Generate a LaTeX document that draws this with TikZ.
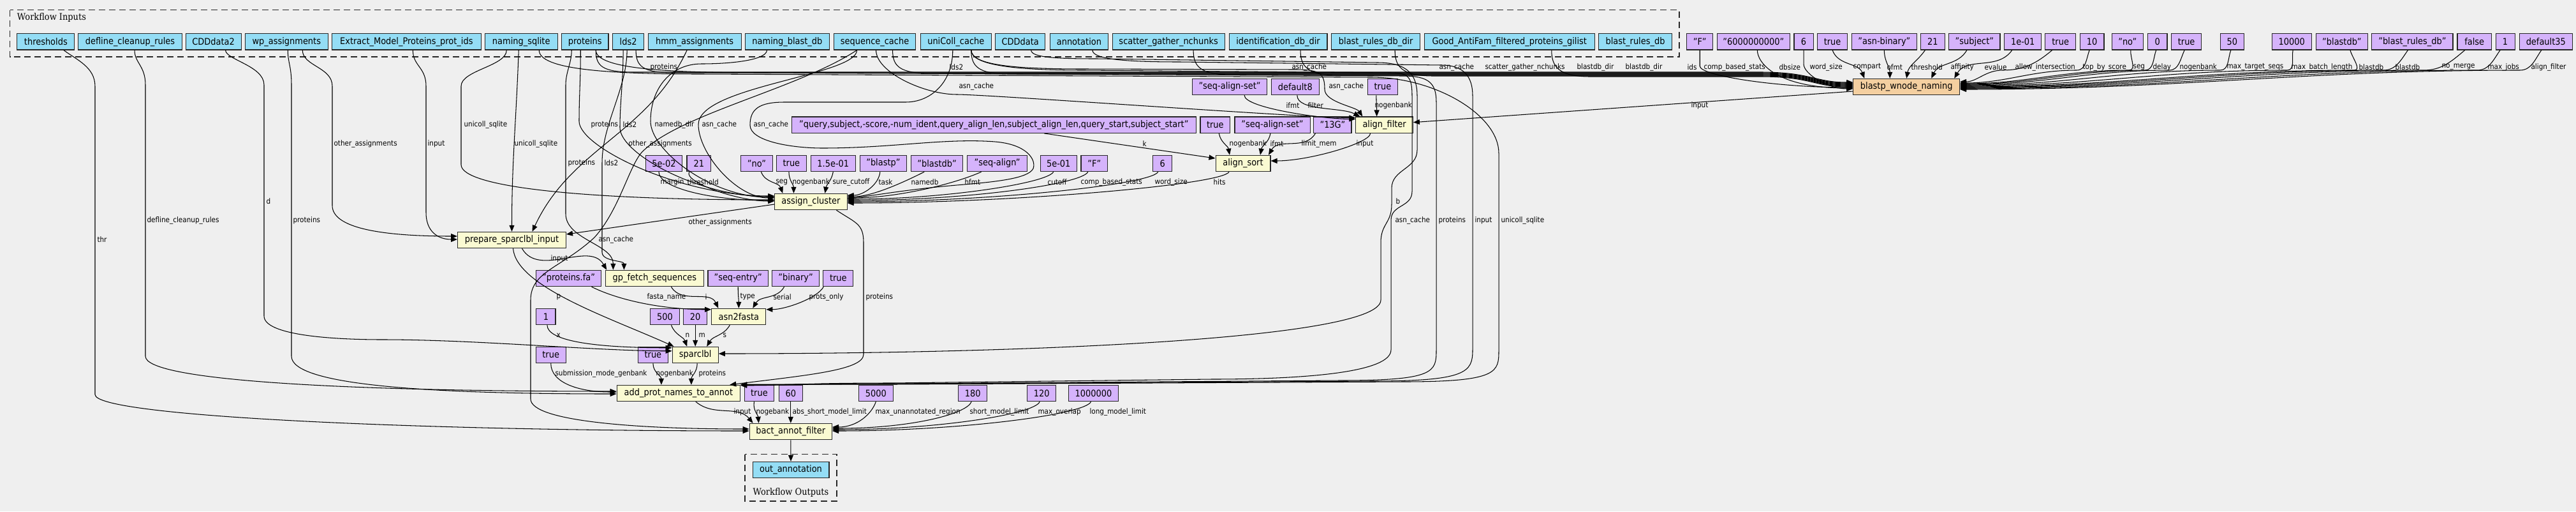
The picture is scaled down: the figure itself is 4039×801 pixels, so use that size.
\documentclass[tikz,border=0pt]{standalone}
\usepackage{fontspec}
\setmainfont{DejaVu Sans}[FakeStretch=0.9]
\newfontfamily\wfserif{DejaVu Serif}[FakeStretch=0.9]
\usetikzlibrary{arrows.meta}
\definecolor{bgc}{HTML}{EFEFEF}
\definecolor{inpc}{HTML}{94DDF5}
\definecolor{cstc}{HTML}{D5B3FB}
\definecolor{stpc}{HTML}{FAFAD2}
\definecolor{sctc}{HTML}{F4CFA0}
\newcommand\nodefont{\fontsize{14.4}{16}\selectfont}
\newcommand\lblfont{\fontsize{11.6}{14}\selectfont}
\newcommand\wffont{\wfserif\fontsize{14.4}{16}\selectfont}
\tikzset{
 nbase/.style={draw=black!85, line width=1.1pt, inner sep=0pt, minimum height=25.4pt, font=\nodefont},
 inp/.style={nbase, fill=inpc},
 cst/.style={nbase, fill=cstc},
 stp/.style={nbase, fill=stpc},
 sct/.style={nbase, fill=sctc},
 conn/.style={draw=black, line width=1.05pt, -{Triangle[length=10pt,width=8pt]}},
 lbl/.style={font=\lblfont, anchor=west, inner sep=0pt},
 wbox/.style={draw=black!85, line width=1.3pt, dash pattern=on 10pt off 6pt},
}
\newcommand\mkN[6]{\node[#1, minimum width={#4-#3-1.1}] (#2) at ({(#3+#4)/2},{-#5}) {#6};}
\newcommand\edgeL[7]{\draw[conn] (#1) .. controls +#3 and +#4 .. (#2) node[lbl] at (#5,-#6) {#7};}
\newcommand\edgeT[7]{\draw[conn] (#1) to[out=#3,in=#4] (#2) node[lbl] at (#5,-#6) {#7};}
\newcommand\edgeB[6]{\draw[conn] (#1) .. controls +(0,-25) and +(-50,0) .. ({#2+60},-#3) -- (2760,-#3) .. controls +(80,0) and +(-60,0) .. (#4) node[lbl] at (#5,-105) {#6};}
\newcommand\edgeR[6]{\draw[conn] (#1) to[out=#3,in=0] (#2,-110) to[out=180,in=0] (#4) node[lbl] at (#5,-105) {#6};}
\begin{document}
\begin{tikzpicture}[x=1pt,y=1pt]
\fill[bgc] (0,0) rectangle (4039,-801);
\useasboundingbox (0,0) rectangle (4039,-801);
\draw[wbox] (15.6,-15.7) rectangle (2633,-89);
\node[anchor=west, font=\wffont, inner sep=0] (wflin) at (26.8,-27.3) {Workflow Inputs};
\draw[wbox] (1167.9,-711.7) rectangle (1312,-785);
\node[font=\wffont, inner sep=0] (wflout) at (1240,-771.7) {Workflow Outputs};
% inputs
\mkN{inp}{thr}{26.3}{117.4}{65.3}{thresholds}
\mkN{inp}{defl}{122.3}{285.7}{65.3}{defline\_cleanup\_rules}
\mkN{inp}{cdd2}{290.6}{378.6}{65.3}{CDDdata2}
\mkN{inp}{wp}{383.9}{514.7}{65.3}{wp\_assignments}
\mkN{inp}{emp}{520.1}{754.6}{65.3}{Extract\_Model\_Proteins\_prot\_ids}
\mkN{inp}{nsq}{759.9}{874.6}{65.3}{naming\_sqlite}
\mkN{inp}{prot}{880}{954.5}{65.3}{proteins}
\mkN{inp}{lds}{960.3}{1009.9}{65.3}{lds2}
\mkN{inp}{hmm}{1015.7}{1162.6}{65.3}{hmm\_assignments}
\mkN{inp}{nbd}{1167.9}{1300.9}{65.3}{naming\_blast\_db}
\mkN{inp}{seqc}{1307.2}{1435.9}{65.3}{sequence\_cache}
\mkN{inp}{unic}{1443}{1554.6}{65.3}{uniColl\_cache}
\mkN{inp}{cdd}{1560}{1639.4}{65.3}{CDDdata}
\mkN{inp}{ann}{1645.7}{1738.1}{65.3}{annotation}
\mkN{inp}{sgn}{1743.5}{1920.7}{65.3}{scatter\_gather\_nchunks}
\mkN{inp}{iddd}{1926.5}{2081.5}{65.3}{identification\_db\_dir}
\mkN{inp}{brdd}{2087.3}{2227}{65.3}{blast\_rules\_db\_dir}
\mkN{inp}{good}{2232.8}{2500.7}{65.3}{Good\_AntiFam\_filtered\_proteins\_gilist}
\mkN{inp}{brdb}{2506}{2622}{65.3}{blast\_rules\_db}
% top constants
\mkN{cst}{cF}{2644}{2686.4}{65.3}{"F"}
\mkN{cst}{cdbs}{2691.7}{2807}{65.3}{"6000000000"}
\mkN{cst}{cws}{2812.4}{2843.7}{65.3}{6}
\mkN{cst}{ccmp}{2849}{2897.2}{65.3}{true}
\mkN{cst}{cofmt}{2903}{3005.7}{65.3}{"asn-binary"}
\mkN{cst}{cthr}{3011}{3049.9}{65.3}{21}
\mkN{cst}{caff}{3055.3}{3136.5}{65.3}{"subject"}
\mkN{cst}{cev}{3142.3}{3201.2}{65.3}{1e-01}
\mkN{cst}{cai}{3206.1}{3255.2}{65.3}{true}
\mkN{cst}{ctbs}{3260.6}{3299.5}{65.3}{10}
\mkN{cst}{cseg}{3310.6}{3361}{65.3}{"no"}
\mkN{cst}{cdel}{3366.8}{3398.5}{65.3}{0}
\mkN{cst}{cngb}{3403.9}{3452.3}{65.3}{true}
\mkN{cst}{cmts}{3480.5}{3519.1}{65.3}{50}
\mkN{cst}{cmbl}{3561.6}{3624.6}{65.3}{10000}
\mkN{cst}{cbdb}{3630.5}{3713.3}{65.3}{"blastdb"}
\mkN{cst}{cbrd}{3718.3}{3846.5}{65.3}{"blast\_rules\_db"}
\mkN{cst}{cnm}{3852.4}{3907}{65.3}{false}
\mkN{cst}{cmj}{3912.5}{3943.6}{65.3}{1}
\mkN{cst}{caf}{3949.5}{4034}{65.3}{default35}
% row 136
\mkN{sct}{B}{2905.3}{3073.1}{136}{blastp\_wnode\_naming}
\mkN{cst}{csas1}{1868.9}{1987.2}{136}{"seq-align-set"}
\mkN{cst}{cdef8}{1993}{2068.6}{136}{default8}
\mkN{cst}{ctaf}{2144}{2191.8}{136}{true}
% row 195.7
\mkN{cst}{cq}{1241}{1875.6}{195.7}{"query,subject,-score,-num\_ident,query\_align\_len,subject\_align\_len,query\_start,subject\_start"}
\mkN{cst}{ctas}{1881.4}{1929.2}{195.7}{true}
\mkN{cst}{csas2}{1935.4}{2054.6}{195.7}{"seq-align-set"}
\mkN{cst}{c13g}{2059.2}{2119.5}{195.7}{"13G"}
\mkN{stp}{AF}{2125.3}{2215.9}{195.7}{align\_filter}
% row 256
\mkN{cst}{cmar}{1011.7}{1070.2}{256}{5e-02}
\mkN{cst}{cth2}{1076.4}{1115.2}{256}{21}
\mkN{cst}{cseg2}{1161.2}{1211.7}{256}{"no"}
\mkN{cst}{cngb2}{1217}{1264.8}{256}{true}
\mkN{cst}{ccut}{1271}{1341.6}{256}{1.5e-01}
\mkN{cst}{ctask}{1347.8}{1422}{256}{"blastp"}
\mkN{cst}{cndb}{1427.9}{1510.4}{256}{"blastdb"}
\mkN{cst}{chf}{1516.2}{1610.9}{256}{"seq-align"}
\mkN{cst}{ccut2}{1630.5}{1689}{256}{5e-01}
\mkN{cst}{ccbs}{1694.4}{1737.2}{256}{"F"}
\mkN{cst}{cws2}{1807.3}{1838.1}{256}{6}
\mkN{stp}{AS}{1905.5}{1992.5}{256}{align\_sort}
\mkN{stp}{AC}{1214.3}{1328.6}{316}{assign\_cluster}
\mkN{stp}{P}{717}{888}{376}{prepare\_sparclbl\_input}
% row 436
\mkN{cst}{cpfa}{839.8}{943.4}{436}{"proteins.fa"}
\mkN{stp}{G}{949.2}{1103.6}{436}{gp\_fetch\_sequences}
\mkN{cst}{cse}{1109.4}{1205}{436}{"seq-entry"}
\mkN{cst}{cbin}{1210.3}{1284.9}{436}{"binary"}
\mkN{cst}{cpo}{1290.2}{1338.4}{436}{true}
% row 496
\mkN{cst}{cx}{840.3}{871.5}{496}{1}
\mkN{cst}{cn}{1019.3}{1065.7}{496}{500}
\mkN{cst}{cm}{1071}{1109.4}{496}{20}
\mkN{stp}{A2F}{1115.2}{1201.4}{496}{asn2fasta}
% row 556
\mkN{cst}{csmg}{839.8}{887.6}{556}{true}
\mkN{cst}{cngb3}{1000}{1047.8}{556}{true}
\mkN{stp}{S}{1053.6}{1126.8}{556}{sparclbl}
% row 616
\mkN{stp}{APN}{966.6}{1161.2}{616}{add\_prot\_names\_to\_annot}
\mkN{cst}{cngb4}{1166.6}{1214.3}{616}{true}
\mkN{cst}{casml}{1220.6}{1259}{616}{60}
\mkN{cst}{cmur}{1346}{1400.6}{616}{5000}
\mkN{cst}{csml}{1502}{1548.4}{616}{180}
\mkN{cst}{cmo}{1610}{1656.4}{616}{120}
\mkN{cst}{clml}{1675.2}{1753.7}{616}{1000000}
\mkN{stp}{BAF}{1174.6}{1305}{676}{bact\_annot\_filter}
\mkN{inp}{out}{1179.5}{1300.5}{736}{out\_annotation}

% ===== into blastp_wnode_naming
\edgeB{[xshift=17]prot.south}{934}{113}{[yshift=7]B.west}{1019}{proteins}
\edgeB{[xshift=12]lds.south}{997}{114}{[yshift=6]B.west}{1488}{lds2}
\edgeB{[xshift=28]seqc.south}{1400}{115}{[yshift=5]B.west}{2025}{asn\_cache}
\edgeB{[xshift=24]unic.south}{1523}{116}{[yshift=4]B.west}{2256}{asn\_cache}
\edgeB{[xshift=39]sgn.south}{1871}{117}{[yshift=3]B.west}{2328}{scatter\_gather\_nchunks}
\edgeB{[xshift=35]iddd.south}{2039}{118}{[yshift=2]B.west}{2472}{blastdb\_dir}
\edgeB{[xshift=30]brdd.south}{2187}{119}{[yshift=1]B.west}{2548}{blastdb\_dir}
\edgeB{[xshift=66]good.south}{2433}{120}{B.west}{2645}{ids}
\draw[conn] (cF.south) -- ++(0,-25) .. controls +(0,-15) and +(-120,0) .. ([yshift=-1]B.west) node[lbl] at (2671,-105) {comp\_based\_stats};
\draw[conn] ([xshift=6]cdbs.south) .. controls +(0,-20) and +(-120,0) .. ([yshift=-2]B.west) node[lbl] at (2789,-105) {dbsize};
\draw[conn] (cws.south) -- ++(0,-22) .. controls +(0,-15) and +(-40,0) .. ([yshift=-3]B.west) node[lbl] at (2837,-105) {word\_size};
\edgeT{ccmp.south}{[xshift=-66]B.north}{-70}{110}{2905}{105}{compart}
\edgeT{cofmt.south}{[xshift=-26]B.north}{-90}{90}{2958}{105}{ofmt}
\edgeT{[xshift=-12]cthr.south}{B.north}{-125}{80}{2996}{105}{threshold}
\edgeT{[xshift=-12]caff.south}{[xshift=39]B.north}{-120}{65}{3058}{105}{affinity}
\edgeT{[xshift=-17]cev.south}{[xshift=75]B.north}{-125}{60}{3111}{105}{evalue}
\edgeR{[xshift=-13]cai.south}{3140}{-140}{[yshift=8]B.east}{3159}{allow\_intersection}
\edgeR{[xshift=-4]ctbs.south}{3256}{-110}{[yshift=6]B.east}{3265}{top\_by\_score}
\edgeR{[xshift=5]cseg.south}{3338}{-95}{[yshift=5]B.east}{3344}{seg}
\edgeR{[xshift=-2]cdel.south}{3363}{-110}{[yshift=4]B.east}{3375}{delay}
\edgeR{[xshift=-3]cngb.south}{3401}{-115}{[yshift=3]B.east}{3417}{nogenbank}
\edgeR{[xshift=-2]cmts.south}{3481}{-110}{[yshift=2]B.east}{3491}{max\_target\_seqs}
\edgeR{[xshift=2]cmbl.south}{3586}{-100}{[yshift=1]B.east}{3592}{max\_batch\_length}
\edgeR{[xshift=13]cbdb.south}{3691}{-75}{B.east}{3698}{blastdb}
\edgeR{[xshift=-7]cbrd.south}{3737}{-125}{[yshift=-1]B.east}{3755}{blastdb}
\edgeR{[xshift=-15]cnm.south}{3800}{-140}{[yshift=-2]B.east}{3828}{no\_merge}
\edgeR{[xshift=-8]cmj.south}{3884}{-125}{[yshift=-3]B.east}{3900}{max\_jobs}
\edgeR{[xshift=-7]caf.south}{3951}{-125}{[yshift=-4]B.east}{3968}{align\_filter}

% ===== into align_filter
\draw[conn] ([yshift=-7]B.west) -- ([yshift=4]AF.east) node[lbl] at (2651,-165) {input};
\edgeL{[xshift=23]csas1.south}{[yshift=-4]AF.north west}{(0,-20)}{(-50,0)}{2016}{165}{ifmt}
\edgeL{[xshift=3]cdef8.south}{[xshift=7]AF.north west}{(0,-25)}{(-30,15)}{2050}{165}{filter}
\draw[conn] ([xshift=2]seqc.south) .. controls +(0,-35) and +(-50,0) .. (1500,-148) .. controls +(50,0) and +(-80,0) .. ([yshift=-2]AF.north west) node[lbl] at (1503,-135) {asn\_cache};
\draw[conn] ([xshift=24]unic.south) .. controls +(0,-25) and +(-100,0) .. (1700,-108) -- (2030,-109) .. controls +(40,0) and +(0,25) .. (2077,-140) .. controls +(0,-20) and +(-10,15) .. ([xshift=11]AF.north west) node[lbl] at (2083,-135) {asn\_cache};
\edgeT{[xshift=-10]ctaf.south}{[xshift=-12]AF.north}{-90}{90}{2155}{165}{nogenbank}

% ===== into align_sort
\draw[conn] ([xshift=79]cq.south) -- ([yshift=8]AS.west) node[lbl] at (1791,-225) {k};
\edgeT{[xshift=6]ctas.south}{[xshift=-21]AS.north}{-80}{100}{1927}{225}{nogenbank}
\edgeT{[xshift=-3]csas2.south}{[xshift=27]AS.north}{-100}{80}{1991}{225}{ifmt}
\edgeT{[xshift=-27]c13g.south}{[xshift=40]AS.north}{-120}{60}{2040}{225}{limit\_mem}
\edgeL{[xshift=-22]AF.south}{[yshift=4]AS.east}{(0,-15)}{(60,0)}{2126}{225}{input}

% ===== into assign_cluster
\draw[conn] ([xshift=-23]nsq.south) .. controls +(0,-25) and +(0,25) .. (723,-135) -- (723,-258) .. controls +(0,-35) and +(-300,0) .. ([yshift=3]AC.west) node[lbl] at (727,-195) {unicoll\_sqlite};
\draw[conn] ([xshift=-7]prot.south) .. controls +(0,-50) and +(0,40) .. (908,-190) .. controls +(0,-40) and +(-150,0) .. ([yshift=9]AC.west) node[lbl] at (926,-195) {proteins};
\draw[conn] ([xshift=-8]lds.south) .. controls +(0,-50) and +(0,40) .. (972,-200) .. controls +(0,-40) and +(-120,0) .. ([yshift=8]AC.west) node[lbl] at (976,-195) {lds2};
\draw[conn] ([xshift=-32]nbd.south) .. controls +(0,-15) and +(50,0) .. (1100,-100) .. controls +(-50,0) and +(0,50) .. (1020,-190) .. controls +(0,-45) and +(-100,0) .. ([yshift=7]AC.west) node[lbl] at (1026,-195) {namedb\_dir};
\draw[conn] ([xshift=-28]seqc.south) .. controls +(0,-40) and +(0,60) .. (1095,-195) .. controls +(0,-45) and +(-60,0) .. ([yshift=6]AC.west) node[lbl] at (1100,-195) {asn\_cache};
\draw[conn] ([xshift=-5]unic.south) .. controls +(0,-50) and +(40,0) .. (1420,-160) -- (1230,-160) .. controls +(-40,0) and +(0,25) .. (1176,-196) .. controls +(0,-25) and +(-50,0) .. (1290,-232) .. controls (1400,-232) and (1480,-216) .. (1560,-222) .. controls (1610,-226) and (1625,-250) .. (1620,-264) .. controls (1612,-280) and (1560,-285) .. (1500,-290) .. controls (1420,-297) and (1380,-305) .. ([yshift=5]AC.east) node[lbl] at (1181,-195) {asn\_cache};
\edgeL{[xshift=-8]cmar.south}{[yshift=2]AC.west}{(0,-25)}{(-100,0)}{1035}{285}{margin}
\edgeL{[xshift=-15]cth2.south}{[yshift=1]AC.west}{(-10,-15)}{(-60,0)}{1077}{285}{threshold}
\edgeT{[xshift=7]cseg2.south}{[xshift=13]AC.north west}{-70}{110}{1216}{285}{seg}
\edgeT{[xshift=-4]cngb2.south}{[xshift=-27]AC.north}{-90}{90}{1242}{285}{nogenbank}
\edgeT{ccut.south}{[xshift=22]AC.north}{-100}{80}{1305}{285}{sure\_cutoff}
\edgeL{[xshift=-5]ctask.south}{[yshift=10]AC.east}{(-2,-20)}{(25,0)}{1377}{285}{task}
\edgeL{[xshift=-20]cndb.south}{[yshift=8]AC.east}{(-30,-15)}{(40,0)}{1428}{285}{namedb}
\edgeL{[xshift=-25]chf.south}{[yshift=6]AC.east}{(-40,-18)}{(80,0)}{1512}{285}{hfmt}
\edgeL{[xshift=-8]ccut2.south}{[yshift=4]AC.east}{(-10,-18)}{(150,0)}{1642}{285}{cutoff}
\edgeL{[xshift=-10]ccbs.south}{[yshift=2]AC.east}{(-10,-20)}{(180,0)}{1694}{285}{comp\_based\_stats}
\edgeL{[xshift=-7]cws2.south}{AC.east}{(-10,-20)}{(220,0)}{1810}{285}{word\_size}
\edgeL{[xshift=-22]AS.south}{[yshift=-2]AC.east}{(-10,-20)}{(260,0)}{1902}{285}{hits}

% ===== into prepare_sparclbl_input
\draw[conn] ([xshift=25]wp.south) .. controls +(0,-25) and +(0,30) .. (521,-135) -- (521,-322) .. controls +(0,-35) and +(-120,0) .. ([yshift=6]P.west) node[lbl] at (523,-225) {other\_assignments};
\draw[conn] ([xshift=10]emp.south) .. controls +(0,-25) and +(0,30) .. (668,-135) -- (668,-333) .. controls +(0,-30) and +(-30,0) .. ([yshift=1]P.west) node[lbl] at (670,-225) {input};
\edgeT{[xshift=-4]nsq.south}{P.north}{-92}{90}{806}{225}{unicoll\_sqlite}
\edgeT{[xshift=-12]hmm.south}{[xshift=32]P.north}{-115}{65}{985}{225}{other\_assignments}
\draw[conn] ([yshift=-4]AC.west) -- ([yshift=9]P.east) node[lbl] at (1079,-348) {other\_assignments};

% ===== into gp_fetch_sequences
\edgeT{[xshift=16]P.south}{[xshift=2]G.north west}{-60}{120}{863}{405}{input}
\draw[conn] ([xshift=-21]prot.south) .. controls +(0,-20) and +(0,20) .. (887,-133) -- (887,-335) .. controls +(0,-40) and +(0,40) .. ([xshift=-65]G.north) node[lbl] at (890,-255) {proteins};
\draw[conn] ([xshift=-2]lds.south) .. controls +(0,-60) and +(0,60) .. (944,-255) -- (944,-395) .. controls +(0,-15) and +(0,15) .. ([xshift=-48]G.north) node[lbl] at (947,-255) {lds2};

% ===== into asn2fasta
\edgeL{[xshift=36]cpfa.south}{[yshift=-2]A2F.north west}{(40,-20)}{(-80,0)}{1014}{465}{fasta\_name}
\edgeT{[xshift=26]G.south}{[xshift=-32]A2F.north}{-60}{115}{1105}{465}{i}
\edgeT{cse.south}{A2F.north}{-90}{90}{1160}{465}{type}
\edgeT{[xshift=-18]cbin.south}{[xshift=22]A2F.north}{-120}{60}{1212}{465}{serial}
\edgeL{[xshift=-23]cpo.south}{[yshift=-2]A2F.north east}{(-10,-18)}{(30,0)}{1268}{465}{prots\_only}

% ===== into sparclbl
\edgeL{[xshift=2]cx.south}{[yshift=-2]S.north west}{(0,-25)}{(-120,0)}{872}{525}{x}
\draw[conn] ([xshift=2]P.south) .. controls +(5,-60) and +(-100,45) .. ([xshift=3]S.north west) node[lbl] at (872,-465) {p};
\edgeT{[xshift=10]cn.south}{[xshift=-13]S.north}{-70}{110}{1074}{525}{n}
\edgeT{cm.south}{S.north}{-90}{90}{1095}{525}{m}
\edgeT{[xshift=-14]A2F.south}{[xshift=18]S.north}{-120}{60}{1133}{525}{s}
\draw[conn] ([xshift=19]cdd2.south) .. controls +(0,-15) and +(0,30) .. (414,-133) -- (414,-495) .. controls +(0,-30) and +(-80,0) .. (600,-532) .. controls +(150,0) and +(-120,0) .. ([yshift=-7]S.north west) node[lbl] at (417,-315) {d};
\draw[conn] ([xshift=17]cdd.south) .. controls +(0,-12) and +(-60,0) .. (1720,-92) -- (2160,-98) .. controls +(50,0) and +(0,30) .. (2222,-150) -- (2222,-235) .. controls +(0,-30) and +(0,30) .. (2182,-295) -- (2182,-320) .. controls +(0,-30) and +(0,30) .. (2165,-380) -- (2165,-470) .. controls +(0,-60) and +(500,0) .. ([yshift=2]S.east) node[lbl] at (2188,-315) {b};

% ===== into add_prot_names_to_annot
\edgeL{csmg.south}{[yshift=2]APN.west}{(0,-30)}{(-60,0)}{870}{585}{submission\_mode\_genbank}
\edgeT{cngb3.south}{[xshift=-27]APN.north}{-90}{90}{1028}{585}{nogenbank}
\edgeT{[xshift=3]S.south}{[xshift=20]APN.north}{-90}{90}{1095}{585}{proteins}
\draw[conn] ([xshift=7]defl.south) .. controls +(0,-20) and +(0,30) .. (228,-133) -- (228,-558) .. controls +(0,-40) and +(-400,0) .. ([yshift=3]APN.west) node[lbl] at (230,-345) {defline\_cleanup\_rules};
\draw[conn] ([xshift=2]wp.south) .. controls +(0,-20) and +(0,30) .. (457,-133) -- (457,-558) .. controls +(0,-45) and +(-300,0) .. ([yshift=-1]APN.west) node[lbl] at (459,-345) {proteins};
\draw[conn] ([xshift=40]AC.south) .. controls +(30,-20) and +(0,30) .. (1354,-380) -- (1354,-555) .. controls +(0,-25) and +(120,15) .. ([xshift=-17]APN.north east) node[lbl] at (1357,-465) {proteins};
\draw[conn] ([xshift=24]unic.south) .. controls +(0,-25) and +(-100,0) .. (1700,-110) -- (2180,-114) .. controls +(28,0) and +(0,30) .. (2214,-150) -- (2214,-300) .. controls +(0,-25) and +(0,25) .. (2181,-345) -- (2181,-548) .. controls +(0,-35) and +(150,0) .. (1900,-594) -- (1400,-600) .. controls +(-150,0) and +(80,0) .. ([yshift=-1]APN.north east) node[lbl] at (2187,-345) {asn\_cache};
\draw[conn] ([xshift=17]prot.south) .. controls +(0,-30) and +(-150,0) .. (1200,-114) -- (2200,-119) .. controls +(40,0) and +(0,30) .. (2252,-160) -- (2252,-548) .. controls +(0,-35) and +(150,0) .. (2100,-596) -- (1400,-601) .. controls +(-150,0) and +(80,0) .. (APN.north east) node[lbl] at (2255,-345) {proteins};
\draw[conn] ([xshift=21]ann.south) .. controls +(0,-15) and +(-80,0) .. (1850,-97) -- (2260,-102) .. controls +(35,0) and +(0,30) .. (2309,-150) -- (2309,-548) .. controls +(0,-35) and +(150,0) .. (2150,-597) -- (1400,-601.5) .. controls +(-150,0) and +(80,0) .. ([yshift=-0.5]APN.north east) node[lbl] at (2312,-345) {input};
\draw[conn] ([xshift=28]nsq.south) .. controls +(0,-30) and +(-150,0) .. (1100,-116) -- (2150,-121) .. controls +(100,0) and +(0,60) .. (2350,-240) -- (2350,-548) .. controls +(0,-35) and +(150,0) .. (2200,-598) -- (1400,-602) .. controls +(-150,0) and +(80,0) .. ([yshift=0.5]APN.north east) node[lbl] at (2353,-345) {unicoll\_sqlite};

% ===== into bact_annot_filter
\edgeT{[xshift=27]APN.south}{[xshift=6]BAF.north west}{-40}{130}{1150}{645}{input}
\edgeT{[xshift=-8]cngb4.south}{[xshift=15]BAF.north west}{-100}{95}{1185}{645}{nogebank}
\edgeT{casml.south}{BAF.north}{-90}{90}{1242}{645}{abs\_short\_model\_limit}
\edgeL{cmur.south}{[yshift=7]BAF.east}{(-6,-18)}{(40,0)}{1372}{645}{max\_unannotated\_region}
\edgeL{[xshift=-2]csml.south}{[yshift=5]BAF.east}{(-8,-20)}{(120,0)}{1520}{645}{short\_model\_limit}
\edgeL{[xshift=-3]cmo.south}{[yshift=3]BAF.east}{(-8,-20)}{(160,0)}{1627}{645}{max\_overlap}
\edgeL{[xshift=-4]clml.south}{[yshift=1]BAF.east}{(-8,-20)}{(200,0)}{1708}{645}{long\_model\_limit}
\draw[conn] ([xshift=28]thr.south) .. controls +(20,-15) and +(0,30) .. (149,-135) -- (149,-618) .. controls +(0,-35) and +(-500,0) .. ([yshift=1]BAF.west) node[lbl] at (152,-375) {thr};
\draw[conn] ([xshift=-28]seqc.south) .. controls (1250,-140) and (1060,-180) .. (1005,-240) .. controls (985,-265) and (970,-330) .. (932,-372) .. controls (880,-420) and (832,-425) .. (832,-470) -- (832,-625) .. controls (832,-660) and (1000,-672) .. ([yshift=4]BAF.west) node[lbl] at (938,-375) {asn\_cache};

% ===== output
\draw[conn] (BAF.south) -- (out.north);
\end{tikzpicture}
\end{document}
